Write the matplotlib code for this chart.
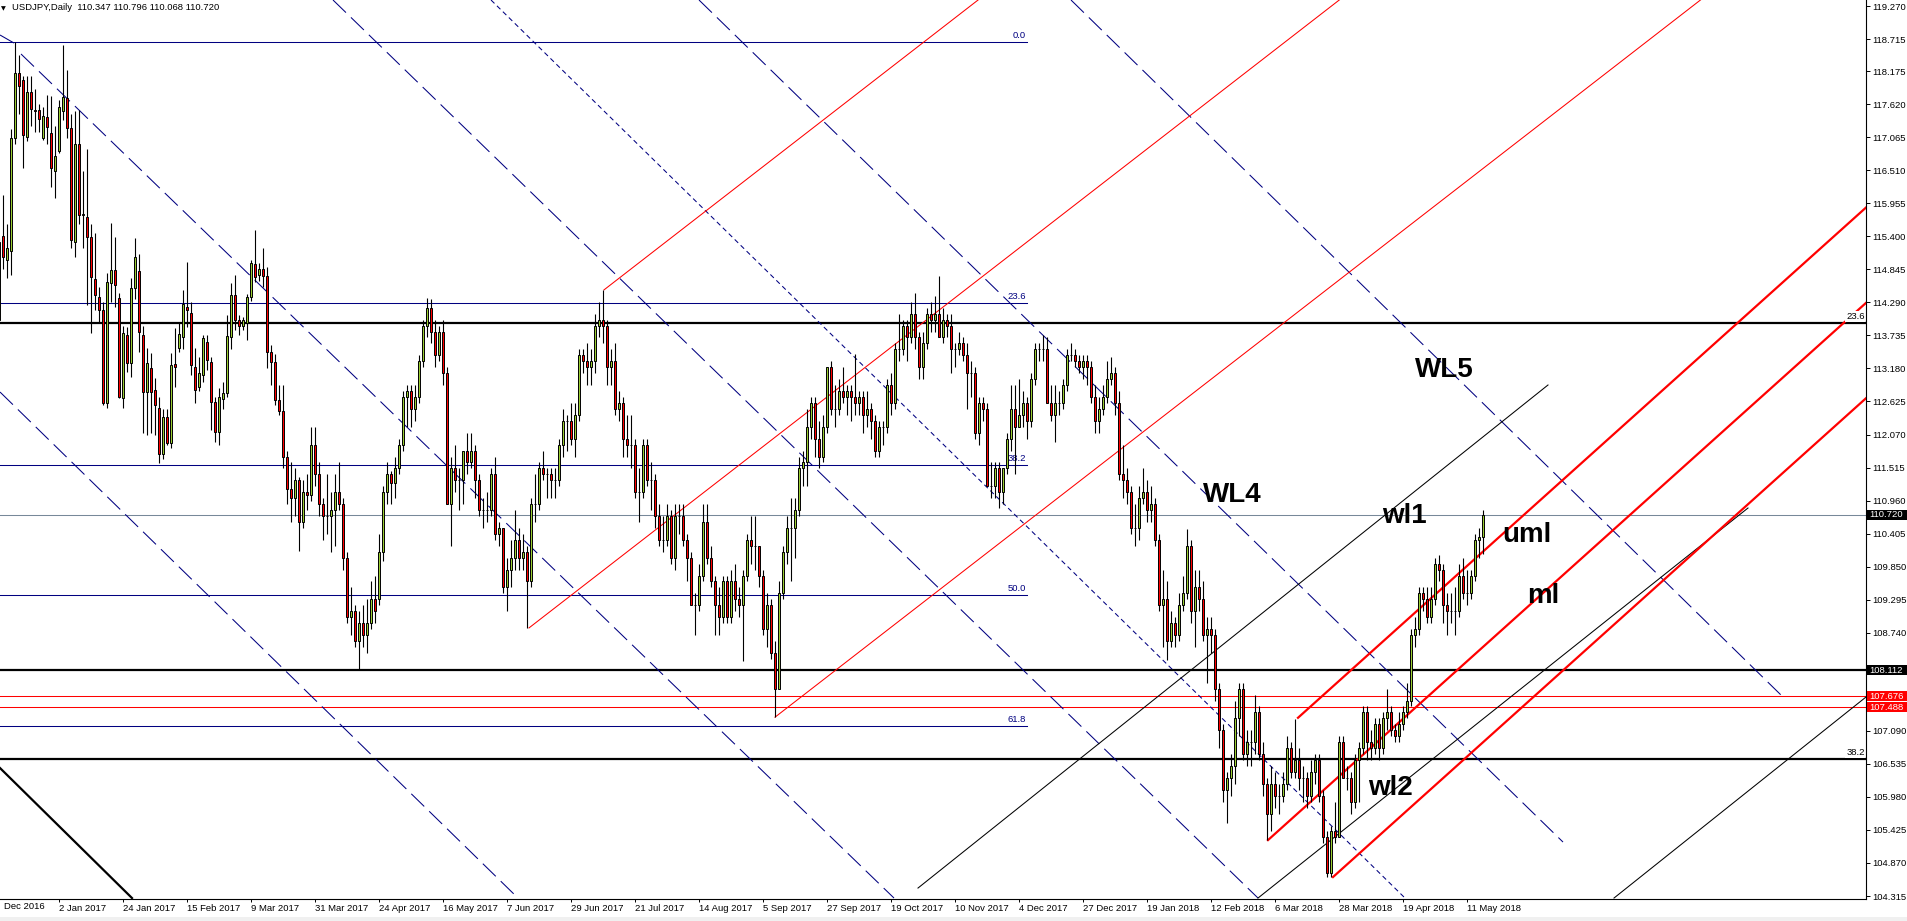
import numpy as np
import matplotlib.pyplot as plt
from matplotlib.patches import Rectangle
from matplotlib import transforms

plt.rcParams['font.family'] = ['Liberation Sans', 'DejaVu Sans']
plt.rcParams['lines.scale_dashes'] = False

# bar index 0 = 2 Jan 2017, first bar = 9 Dec 2016 (daily bars, no weekends)
first_bar = -15

bar_open = [
    114.00, 115.40, 115.00, 115.15, 117.05,
    118.15, 118.03, 117.07, 117.83, 117.52,
    117.52, 117.05, 117.41, 117.14, 116.50,
    116.83, 117.50, 117.72, 117.22, 115.30,
    116.95, 115.76, 115.72, 115.39, 114.68,
    114.38, 114.16, 112.60, 114.62, 114.83,
    114.36, 112.68, 113.74, 113.27, 114.53,
    114.81, 113.74, 112.78, 113.19, 112.82,
    112.51, 111.75, 112.36, 111.93, 113.25,
    113.52, 113.71, 114.21, 114.11, 113.20,
    112.87, 113.07, 113.63, 113.29, 112.62,
    112.11, 112.67, 112.77, 113.71, 114.41,
    113.99, 113.90, 113.94, 114.38, 114.93,
    114.75, 114.85, 114.73, 113.46, 113.29,
    112.65, 112.46, 111.70, 111.15, 111.00,
    111.30, 110.60, 111.10, 111.05, 111.90,
    111.40, 110.90, 110.70, 110.70, 110.80,
    111.10, 110.90, 110.00, 109.00, 109.10,
    108.60, 108.90, 108.70, 108.90, 109.30,
    109.30, 110.10, 111.10, 111.40, 111.25,
    111.50, 111.90, 112.70, 112.80, 112.50,
    112.70, 113.30, 113.90, 114.20, 113.80,
    113.40, 113.80, 113.10, 110.90, 111.50,
    111.30, 111.30, 111.80, 111.60, 111.80,
    111.30, 110.80, 110.80, 110.80, 111.40,
    110.40, 110.50, 109.50, 109.80, 110.00,
    110.30, 110.00, 110.10, 109.60, 110.90,
    110.90, 111.50, 111.40, 111.40, 111.30,
    111.30, 111.90, 112.30, 112.30, 112.00,
    112.40, 113.40, 113.30, 113.20, 113.30,
    113.90, 114.00, 113.90, 113.20, 113.30,
    112.50, 112.60, 112.00, 111.90, 111.90,
    111.10, 111.10, 111.90, 111.30, 111.30,
    110.70, 110.30, 110.30, 110.70, 110.00,
    110.70, 110.70, 110.30, 110.00, 109.20,
    109.20, 109.70, 110.60, 110.00, 109.60,
    109.20, 109.00, 109.60, 109.00, 109.60,
    109.30, 109.20, 109.70, 110.30, 110.20,
    110.20, 109.70, 108.80, 109.20, 108.40,
    107.80, 109.40, 110.10, 110.50, 110.50,
    110.80, 111.50, 111.60, 112.20, 112.60,
    112.00, 111.70, 112.20, 113.20, 112.50,
    112.50, 112.80, 112.70, 112.80, 112.70,
    112.60, 112.70, 112.40, 112.50, 112.30,
    111.80, 112.20, 112.20, 112.90, 112.60,
    113.50, 113.50, 113.90, 113.70, 114.10,
    113.70, 113.20, 113.60, 114.10, 114.00,
    114.10, 113.70, 114.00, 113.90, 113.50,
    113.50, 113.60, 113.40, 113.10, 113.10,
    112.10, 112.60, 112.50, 111.20, 111.20,
    111.50, 111.10, 111.50, 112.00, 112.50,
    112.20, 112.40, 112.60, 112.30, 113.00,
    113.50, 113.50, 113.50, 112.60, 112.40,
    112.60, 112.60, 112.90, 113.40, 113.40,
    113.30, 113.20, 113.30, 113.20,
    112.70, 112.30, 112.50, 112.70,
    113.00, 113.10, 112.60, 111.40, 111.30,
    111.10, 110.50, 110.50, 111.00, 111.10,
    110.80, 110.90, 110.30, 109.20, 109.30,
    108.60, 108.90, 108.70, 109.20, 109.40,
    110.20, 109.10, 109.50, 109.30, 108.70,
    108.80, 108.70, 107.80, 107.10, 106.10,
    106.30, 106.50, 107.30, 107.80, 106.70,
    106.90, 106.90, 107.40, 106.70, 106.20,
    105.70, 106.20, 106.00, 106.00, 106.20,
    106.80, 106.40, 106.60, 106.30, 106.30,
    106.00, 106.40, 106.60, 106.00, 105.30,
    104.70, 105.40, 105.30, 106.90, 106.30,
    106.30, 105.90, 106.60, 106.80, 107.40,
    106.90, 106.80, 107.20, 106.80, 107.30,
    107.40, 107.10, 107.00, 107.20, 107.40,
    107.60, 108.70, 108.80, 109.40, 109.30,
    109.00, 109.30, 109.90, 109.80, 109.20,
    109.10, 109.10, 109.10, 109.70, 109.40,
    109.40, 109.70, 110.30, 110.347,
]

bar_high = [
    115.38, 116.10, 115.60, 117.20, 118.66,
    118.45, 118.10, 118.10, 118.10, 117.88,
    117.62, 117.58, 117.78, 117.75, 117.25,
    117.69, 118.61, 118.20, 117.45, 117.50,
    117.52, 116.50, 116.87, 115.60, 115.45,
    114.55, 114.30, 114.78, 115.62, 115.39,
    114.45, 113.90, 113.87, 114.70, 115.37,
    115.10, 113.90, 113.53, 113.44, 113.02,
    112.70, 112.50, 112.50, 113.44, 113.86,
    113.95, 114.50, 114.97, 114.30, 113.53,
    113.38, 113.74, 113.74, 113.38, 112.70,
    112.85, 112.95, 114.08, 114.61, 114.75,
    114.08, 114.05, 114.43, 115.00, 115.50,
    114.95, 115.20, 114.88, 113.57, 113.43,
    112.90, 112.90, 111.80, 111.60, 111.50,
    111.35, 111.30, 111.40, 112.20, 112.20,
    111.60, 111.00, 111.40, 111.10, 111.40,
    111.60, 111.00, 110.10, 109.50, 109.20,
    109.10, 109.20, 109.30, 109.60, 109.70,
    110.40, 111.20, 111.60, 111.45, 111.70,
    112.00, 112.80, 112.90, 112.90, 112.90,
    113.40, 114.00, 114.37, 114.35, 114.00,
    113.90, 114.00, 113.20, 111.70, 111.90,
    111.50, 111.80, 112.10, 112.10, 111.90,
    111.40, 111.00, 111.10, 111.50, 111.70,
    110.60, 110.50, 110.00, 110.30, 110.80,
    110.50, 110.40, 110.20, 111.00, 111.40,
    111.60, 111.80, 111.50, 111.50, 111.50,
    112.00, 112.50, 112.40, 112.60, 112.60,
    113.50, 113.50, 113.60, 113.50, 114.10,
    114.30, 114.49, 114.00, 113.50, 113.60,
    112.80, 112.70, 112.40, 112.40, 112.00,
    111.50, 112.00, 112.00, 111.60, 111.40,
    110.90, 110.70, 110.90, 110.80, 110.90,
    110.90, 110.90, 110.40, 110.10, 109.40,
    109.90, 110.90, 110.90, 110.20, 109.70,
    109.50, 109.70, 109.70, 109.80, 109.90,
    109.50, 109.80, 110.40, 110.70, 110.70,
    110.20, 109.80, 109.40, 109.30, 108.60,
    109.60, 110.20, 110.70, 111.00, 111.00,
    111.70, 111.80, 112.50, 112.70, 112.70,
    112.30, 112.40, 113.20, 113.30, 112.90,
    113.00, 113.20, 112.90, 112.90, 113.43,
    112.80, 112.80, 112.80, 112.60, 112.40,
    112.30, 112.30, 113.00, 113.10, 113.60,
    114.10, 114.00, 114.00, 114.30, 114.45,
    113.80, 113.80, 114.20, 114.30, 114.40,
    114.73, 114.20, 114.10, 114.10, 113.60,
    113.80, 113.70, 113.60, 113.30, 113.20,
    112.70, 112.70, 112.60, 111.60, 111.60,
    111.60, 111.50, 112.10, 112.90, 112.90,
    113.00, 112.80, 112.70, 113.10, 113.60,
    113.60, 113.75, 113.70, 112.90, 112.90,
    112.80, 113.00, 113.50, 113.60, 113.50,
    113.40, 113.40, 113.40, 113.30,
    112.90, 112.70, 112.90, 113.30,
    113.38, 113.20, 112.80, 111.90, 111.50,
    111.20, 110.90, 111.20, 111.50, 111.30,
    111.20, 111.00, 110.40, 109.80, 109.60,
    109.10, 109.00, 109.40, 109.70, 110.48,
    110.30, 109.80, 109.80, 109.60, 109.00,
    109.00, 108.80, 107.90, 107.20, 106.40,
    106.70, 107.60, 107.90, 107.90, 107.10,
    107.10, 107.70, 107.50, 106.90, 106.30,
    106.50, 106.40, 106.20, 106.40, 107.00,
    106.90, 107.29, 106.80, 106.50, 106.40,
    106.60, 106.70, 106.70, 106.10, 105.40,
    105.50, 105.90, 107.00, 107.00, 106.50,
    106.40, 106.70, 106.90, 107.50, 107.50,
    107.10, 107.30, 107.30, 107.40, 107.80,
    107.50, 107.20, 107.40, 107.50, 107.90,
    108.80, 109.00, 109.50, 109.50, 109.50,
    109.50, 110.00, 110.05, 109.90, 109.40,
    109.40, 109.50, 109.90, 110.00, 109.80,
    109.80, 110.40, 110.50, 110.796,
]

bar_low = [
    113.95, 114.85, 114.70, 114.75, 116.95,
    117.45, 116.55, 117.00, 117.25, 117.15,
    117.15, 117.02, 116.95, 116.23, 116.05,
    116.80, 117.35, 117.05, 115.20, 115.05,
    115.60, 115.20, 114.25, 113.77, 114.16,
    113.95, 112.57, 112.51, 114.30, 114.21,
    112.68, 112.52, 113.12, 113.04, 114.35,
    113.45, 112.09, 112.06, 112.09, 112.06,
    111.59, 111.65, 111.90, 111.85, 112.87,
    113.45, 113.50, 113.88, 113.07, 112.60,
    112.80, 112.95, 113.15, 112.15, 111.95,
    111.90, 112.50, 112.70, 113.50, 113.82,
    113.74, 113.82, 113.66, 114.32, 114.64,
    114.65, 114.55, 113.19, 112.90, 112.57,
    112.40, 111.50, 110.90, 110.60, 110.70,
    110.11, 110.50, 110.80, 110.95, 111.20,
    110.70, 110.30, 110.40, 110.10, 110.20,
    110.80, 109.80, 108.90, 108.70, 108.50,
    108.13, 108.50, 108.40, 108.80, 108.90,
    109.20, 109.95, 110.90, 110.90, 111.00,
    111.40, 111.80, 112.20, 112.20, 112.30,
    112.60, 113.20, 113.70, 113.60, 113.20,
    113.30, 112.90, 110.90, 110.20, 111.10,
    110.80, 110.90, 111.40, 111.50, 111.00,
    110.70, 110.50, 110.60, 110.70, 110.30,
    110.20, 109.40, 109.10, 109.50, 109.80,
    109.80, 109.80, 108.82, 109.50, 110.60,
    110.80, 111.30, 111.00, 111.00, 111.00,
    111.20, 111.70, 111.80, 111.90, 111.70,
    112.30, 113.10, 112.90, 112.90, 113.10,
    113.70, 113.60, 112.90, 112.90, 112.40,
    112.30, 111.70, 111.70, 111.50, 111.00,
    110.60, 111.00, 111.20, 110.80, 110.50,
    110.20, 110.10, 110.20, 109.90, 109.80,
    110.40, 110.20, 109.60, 109.20, 108.70,
    109.10, 109.60, 109.90, 109.50, 108.70,
    108.70, 108.90, 108.90, 108.90, 109.10,
    109.00, 108.27, 109.60, 109.90, 109.80,
    109.50, 108.70, 108.50, 108.30, 107.32,
    107.80, 109.30, 109.90, 109.60, 110.00,
    110.70, 111.20, 111.20, 112.00, 111.70,
    111.50, 111.60, 112.10, 112.40, 112.20,
    112.40, 112.60, 112.40, 112.30, 112.40,
    112.40, 112.10, 112.20, 112.00, 111.70,
    111.70, 111.90, 112.10, 112.40, 112.50,
    113.30, 113.40, 113.30, 113.60, 113.50,
    113.00, 113.00, 113.50, 113.80, 113.80,
    113.70, 113.60, 113.70, 113.10, 113.20,
    113.40, 113.30, 112.50, 112.70, 112.00,
    111.90, 112.30, 111.20, 111.00, 111.00,
    110.84, 110.90, 111.40, 111.80, 111.40,
    112.20, 112.20, 112.00, 112.20, 112.90,
    113.30, 113.30, 112.60, 112.30, 111.95,
    112.40, 112.50, 112.80, 113.30, 113.20,
    113.10, 113.00, 112.90, 112.60,
    112.10, 112.10, 112.40, 112.60,
    112.90, 112.40, 111.30, 111.00, 110.90,
    110.40, 110.20, 110.30, 110.90, 110.60,
    110.60, 110.20, 109.10, 108.50, 108.28,
    108.50, 108.50, 108.60, 109.10, 109.30,
    108.90, 108.50, 109.10, 108.60, 107.90,
    108.40, 107.60, 106.80, 105.90, 105.55,
    106.00, 106.20, 107.00, 106.60, 106.50,
    106.50, 106.70, 106.60, 106.00, 105.25,
    105.40, 105.80, 105.70, 105.90, 106.10,
    106.30, 106.30, 106.10, 105.90, 105.80,
    105.90, 106.20, 105.90, 105.20, 104.63,
    104.64, 105.20, 105.30, 106.30, 106.10,
    105.70, 105.80, 105.90, 106.70, 106.60,
    106.60, 106.70, 106.60, 106.70, 107.10,
    107.00, 106.90, 106.90, 107.10, 107.30,
    107.50, 108.50, 108.70, 109.10, 108.90,
    108.90, 109.20, 109.60, 108.90, 108.70,
    108.90, 108.70, 109.00, 109.30, 109.20,
    109.30, 109.60, 110.00, 110.068,
]

bar_close = [
    115.30, 115.05, 115.20, 117.05, 118.15,
    117.92, 117.10, 117.83, 117.54, 117.50,
    117.37, 117.42, 117.24, 116.55, 116.75,
    117.57, 117.74, 117.22, 115.34, 116.95,
    115.75, 115.78, 115.39, 114.72, 114.41,
    114.16, 112.60, 114.63, 114.83, 114.58,
    112.70, 113.77, 113.27, 114.53, 115.05,
    113.79, 112.78, 113.27, 112.78, 112.57,
    111.75, 112.36, 111.93, 113.24, 113.20,
    113.76, 114.26, 114.16, 113.24, 112.82,
    113.10, 113.69, 113.32, 112.62, 112.11,
    112.70, 112.77, 113.72, 114.41, 113.99,
    113.90, 113.99, 114.38, 114.95, 114.72,
    114.85, 114.73, 113.46, 113.29, 112.65,
    112.46, 111.70, 111.15, 111.00, 111.30,
    110.60, 111.10, 111.05, 111.90, 111.40,
    110.90, 110.70, 110.70, 110.80, 111.10,
    110.90, 110.00, 109.00, 109.10, 108.60,
    108.90, 108.70, 108.90, 109.30, 109.10,
    110.10, 111.10, 111.40, 111.25, 111.50,
    111.90, 112.70, 112.80, 112.50, 112.70,
    113.30, 113.90, 114.20, 113.80, 113.40,
    113.80, 113.10, 110.90, 111.50, 111.30,
    111.30, 111.80, 111.60, 111.80, 111.30,
    110.80, 110.80, 110.80, 111.40, 110.40,
    110.50, 109.50, 109.80, 110.00, 110.30,
    110.00, 110.10, 109.60, 110.90, 110.90,
    111.50, 111.40, 111.40, 111.30, 111.30,
    111.90, 112.30, 112.30, 112.00, 112.40,
    113.40, 113.30, 113.20, 113.30, 113.90,
    114.00, 113.90, 113.20, 113.30, 112.50,
    112.60, 112.00, 111.90, 111.90, 111.10,
    111.10, 111.90, 111.30, 111.30, 110.70,
    110.30, 110.30, 110.70, 110.00, 110.70,
    110.70, 110.30, 110.00, 109.20, 109.20,
    109.70, 110.60, 110.00, 109.60, 109.20,
    109.00, 109.60, 109.00, 109.60, 109.30,
    109.20, 109.70, 110.30, 110.20, 110.20,
    109.70, 108.80, 109.20, 108.40, 107.80,
    109.40, 110.10, 110.50, 110.50, 110.80,
    111.50, 111.60, 112.20, 112.60, 112.00,
    111.70, 112.20, 113.20, 112.50, 112.50,
    112.80, 112.70, 112.80, 112.70, 112.60,
    112.70, 112.40, 112.50, 112.30, 111.80,
    112.20, 112.20, 112.90, 112.60, 113.50,
    113.50, 113.90, 113.70, 114.10, 113.70,
    113.20, 113.60, 114.10, 114.00, 114.10,
    113.70, 114.00, 113.90, 113.50, 113.50,
    113.60, 113.40, 113.10, 113.10, 112.10,
    112.60, 112.50, 111.20, 111.20, 111.50,
    111.10, 111.50, 112.00, 112.50, 112.20,
    112.40, 112.60, 112.30, 113.00, 113.50,
    113.50, 113.50, 112.60, 112.40, 112.60,
    112.60, 112.90, 113.40, 113.40, 113.30,
    113.20, 113.30, 113.20, 112.70,
    112.30, 112.50, 112.70, 113.00,
    113.10, 112.60, 111.40, 111.30, 111.10,
    110.50, 110.50, 111.00, 111.10, 110.80,
    110.90, 110.30, 109.20, 109.30, 108.60,
    108.90, 108.70, 109.20, 109.40, 110.20,
    109.10, 109.50, 109.30, 108.70, 108.80,
    108.70, 107.80, 107.10, 106.10, 106.30,
    106.50, 107.30, 107.80, 106.70, 106.90,
    106.90, 107.40, 106.70, 106.20, 105.70,
    106.20, 106.00, 106.00, 106.20, 106.80,
    106.40, 106.60, 106.30, 106.30, 106.00,
    106.40, 106.60, 106.00, 105.30, 104.70,
    105.40, 105.30, 106.90, 106.30, 106.30,
    105.90, 106.60, 106.80, 107.40, 106.90,
    106.80, 107.20, 106.80, 107.30, 107.40,
    107.10, 107.00, 107.20, 107.40, 107.60,
    108.70, 108.80, 109.40, 109.30, 109.00,
    109.30, 109.90, 109.80, 109.20, 109.10,
    109.10, 109.10, 109.70, 109.40, 109.40,
    109.70, 110.30, 110.35, 110.720,
]

date_ticks = [0, 16, 32, 48, 64, 80, 96, 112, 128, 144, 160, 176,
              192, 208, 224, 240, 256, 272, 288, 304, 320, 336, 352]
date_labels = ["2 Jan 2017", "24 Jan 2017", "15 Feb 2017",
               "9 Mar 2017", "31 Mar 2017", "24 Apr 2017", "16 May 2017",
               "7 Jun 2017", "29 Jun 2017", "21 Jul 2017", "14 Aug 2017",
               "5 Sep 2017", "27 Sep 2017", "19 Oct 2017", "10 Nov 2017",
               "4 Dec 2017", "27 Dec 2017", "19 Jan 2018", "12 Feb 2018",
               "6 Mar 2018", "28 Mar 2018", "19 Apr 2018", "11 May 2018"]
# the first date label is cut by the left edge in the original
edge_label = "Dec 2016"

price_ticks = [119.270, 118.715, 118.175, 117.620, 117.065, 116.510, 115.955,
               115.400, 114.845, 114.290, 113.735, 113.180, 112.625, 112.070,
               111.515, 110.960, 110.405, 109.850, 109.295, 108.740, 107.090,
               106.535, 105.980, 105.425, 104.870, 104.315]

# fibonacci (navy) from the Dec 2016 high
fib_high, fib_low = 118.665, 100.08
fib_levels = [0.0, 23.6, 38.2, 50.0, 61.8]
fib_end = 242

# second fibonacci (black, full width)
fib2_prices = [113.938, 106.612]
fib2_names = ["23.6", "38.2"]

black_level = 108.112
red_levels = [107.676, 107.488]
bid_price = 110.720

# pitchfork pivots (bar, price): handle, upper, lower
fork_2017 = [(117.5, 108.82), (136.25, 114.50), (179.0, 107.32)]
fork_2018 = [(302.25, 105.255), (309.75, 107.31), (318.5, 104.634)]

dashed_lines = [
    ((-14.75, 118.783), (-11.25, 118.648)),
    ((-9.5, 118.464), (208.75, 104.281)),
    ((-14.75, 112.784), (114.75, 104.281)),
    ((68.5, 119.371), (299.75, 104.281)),
    ((160.0, 119.371), (376.0, 105.222)),
    ((253.0, 119.371), (430.75, 107.676)),
]
dotted_line = ((108.0, 119.371), (336.5, 104.281))
thin_black_lines = [
    ((214.75, 104.449), (372.25, 112.902)),
    ((299.75, 104.281), (422.25, 110.835)),
    ((388.75, 104.281), (451.75, 107.659)),
]
thick_black_line = ((-14.75, 106.466), (18.25, 104.281))

big_labels = [("WL5", 339.0, 113.036), ("WL4", 286.0, 110.935),
              ("wl1", 330.75, 110.583), ("uml", 360.75, 110.263),
              ("ml", 367.0, 109.238), ("wl2", 327.25, 106.012)]

W, H = 1907, 921
fig = plt.figure(figsize=(W / 100, H / 100), dpi=100)
fig.patch.set_facecolor("white")
ax = fig.add_axes([0, (H - 899) / H, 1866 / W, 899 / H])
ax.set_xlim(-14.75, 451.75)
ax.set_ylim(104.265, 119.371)

thin = 0.75
thick = 1.6
navy = "#000080"

# horizontal levels
for lvl in fib_levels:
    p = fib_high - lvl / 100 * (fib_high - fib_low)
    ax.plot([-20, fib_end], [p, p], color=navy, lw=thin, zorder=2)
    ax.text(fib_end - 0.3, p + 0.03, f"{lvl:.1f}", color=navy, fontsize=6.8,
            ha="right", va="bottom", zorder=2.5)

for p, name in zip(fib2_prices, fib2_names):
    ax.axhline(p, color="black", lw=thick, zorder=2)
    ax.text(451.4, p + 0.035, name, color="black", fontsize=6.8, ha="right",
            va="bottom", zorder=3,
            bbox=dict(boxstyle="square,pad=0.08", fc="white", ec="none"))

ax.axhline(black_level, color="black", lw=thick, zorder=2)
for p in red_levels:
    ax.axhline(p, color="red", lw=thin, zorder=2)
ax.axhline(bid_price, color="#778899", lw=thin, zorder=2)

# trend lines
for (x0, y0), (x1, y1) in dashed_lines:
    ax.plot([x0, x1], [y0, y1], color=navy, lw=thin, ls=(0, (13, 5)), zorder=2)
(x0, y0), (x1, y1) = dotted_line
ax.plot([x0, x1], [y0, y1], color=navy, lw=thin, ls=(0, (3.5, 2.5)), zorder=2)
for (x0, y0), (x1, y1) in thin_black_lines:
    ax.plot([x0, x1], [y0, y1], color="black", lw=thin, zorder=2)
(x0, y0), (x1, y1) = thick_black_line
ax.plot([x0, x1], [y0, y1], color="black", lw=thick, zorder=2)


def draw_fork(pivots, lw):
    (ax0, ay0), (bx, by), (cx, cy) = pivots
    mx, my = (bx + cx) / 2, (by + cy) / 2
    slope = (my - ay0) / (mx - ax0)
    for px, py in pivots:
        xs = np.array([px, px + 300])
        ax.plot(xs, py + slope * (xs - px), color="red", lw=lw, zorder=2)


draw_fork(fork_2017, thin)
draw_fork(fork_2018, thick)

# candles
o = np.array(bar_open)
h = np.array(bar_high)
l = np.array(bar_low)
c = np.array(bar_close)
x = first_bar + np.arange(len(c))
ax.vlines(x, l, h, color="black", lw=0.8, zorder=4)
up = c >= o
ax.bar(x[up], (c - o)[up], bottom=o[up], width=0.5, color="#9ACD32",
       edgecolor="black", lw=0.7, zorder=5)
ax.bar(x[~up], (o - c)[~up], bottom=c[~up], width=0.5, color="#FF0000",
       edgecolor="black", lw=0.7, zorder=5)

for txt, bx, by in big_labels:
    ax.text(bx, by, txt, fontsize=20, fontweight="bold", color="black",
            ha="left", va="baseline", zorder=8)

# axes look
for s in ("left", "top"):
    ax.spines[s].set_visible(False)
for s in ("right", "bottom"):
    ax.spines[s].set_linewidth(0.8)
ax.yaxis.tick_right()
ax.set_yticks(price_ticks)
ax.set_yticklabels([f"{t:.3f}" for t in price_ticks])
ax.tick_params(axis="y", direction="out", length=3, width=0.7, pad=1.5,
               labelsize=6.8)
ax.set_xticks(date_ticks)
ax.set_xticklabels(date_labels)
for lab in ax.get_xticklabels():
    lab.set_ha("left")
ax.tick_params(axis="x", direction="out", length=2.5, width=0.7, pad=1,
               labelsize=6.8)
fig.text(4 / W, (H - 902) / H, edge_label, fontsize=6.8, ha="left", va="top")

# price tags on the right scale
tag_tr = transforms.blended_transform_factory(fig.transFigure, ax.transData)
tags = [(bid_price, "black"), (black_level, "black"),
        (red_levels[0], "red"), (red_levels[1], "red")]
for p, col in tags:
    ax.add_patch(Rectangle((1867 / W, p - 0.088), 40 / W, 0.176,
                           transform=tag_tr, fc=col, ec="none",
                           clip_on=False, zorder=9))
    ax.text(1869 / W, p, f"{p:.3f}", transform=tag_tr, color="white",
            fontsize=6.8, ha="left", va="center", clip_on=False, zorder=10)

# title
fig.text(1 / W, 1 - 10 / H, "\u25bc", fontsize=4.5, va="baseline",
         family=["DejaVu Sans"])
fig.text(12 / W, 1 - 10 / H, "USDJPY,Daily  110.347 110.796 110.068 110.720",
         fontsize=6.8, va="baseline")

fig.patches.append(Rectangle((0, 0), 1, 4 / H, transform=fig.transFigure,
                             fc="#F0F0F0", ec="none"))

fig.savefig("out.png", dpi=100)
